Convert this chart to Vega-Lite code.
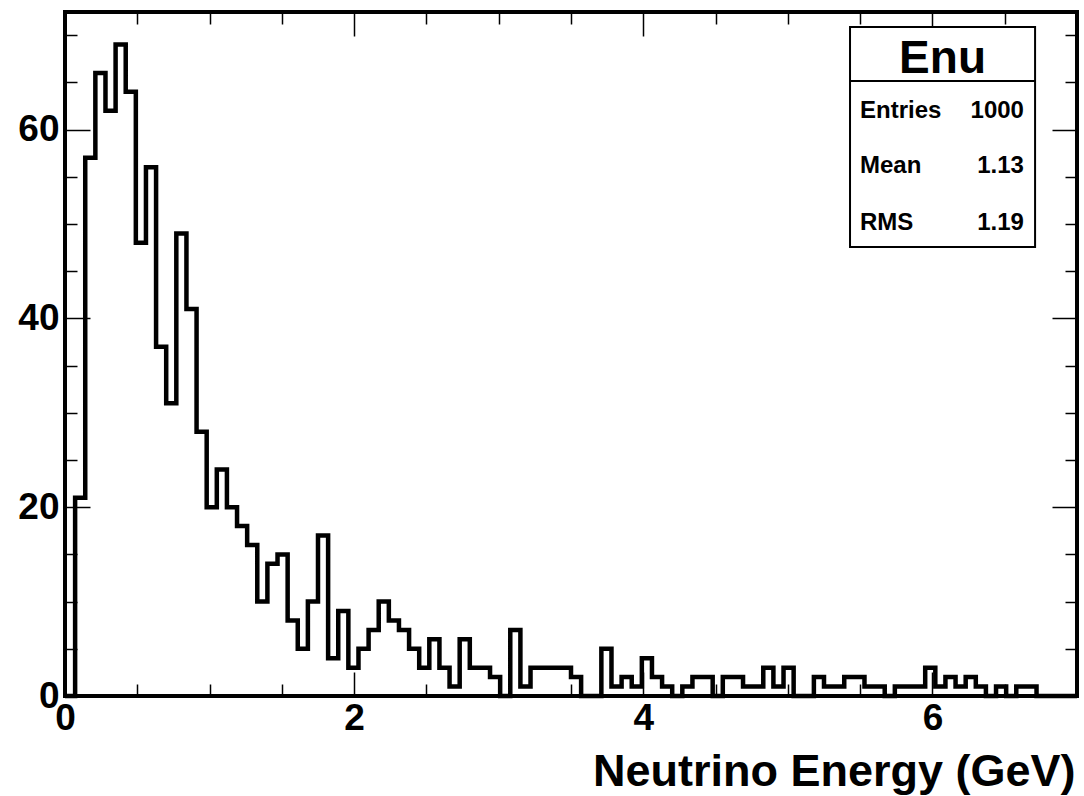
{
  "$schema": "https://vega.github.io/schema/vega-lite/v6.json",
  "width": 1012,
  "height": 684,
  "autosize": {"type": "none"},
  "padding": {"left": 65, "top": 12, "right": 7, "bottom": 100},
  "background": "white",
  "config": {"view": {"stroke": "black", "strokeWidth": 4}, "font": "Liberation Sans"},
  "datasets": {
    "hist": [
      {"e": 0, "n": 0}, {"e": 0.07, "n": 21}, {"e": 0.14, "n": 57}, {"e": 0.21, "n": 66}, {"e": 0.28, "n": 62},
      {"e": 0.35, "n": 69}, {"e": 0.42, "n": 64}, {"e": 0.49, "n": 48}, {"e": 0.56, "n": 56}, {"e": 0.63, "n": 37},
      {"e": 0.7, "n": 31}, {"e": 0.77, "n": 49}, {"e": 0.84, "n": 41}, {"e": 0.91, "n": 28}, {"e": 0.98, "n": 20},
      {"e": 1.05, "n": 24}, {"e": 1.12, "n": 20}, {"e": 1.19, "n": 18}, {"e": 1.26, "n": 16}, {"e": 1.33, "n": 10},
      {"e": 1.4, "n": 14}, {"e": 1.47, "n": 15}, {"e": 1.54, "n": 8}, {"e": 1.61, "n": 5}, {"e": 1.68, "n": 10},
      {"e": 1.75, "n": 17}, {"e": 1.82, "n": 4}, {"e": 1.89, "n": 9}, {"e": 1.96, "n": 3}, {"e": 2.03, "n": 5},
      {"e": 2.1, "n": 7}, {"e": 2.17, "n": 10}, {"e": 2.24, "n": 8}, {"e": 2.31, "n": 7}, {"e": 2.38, "n": 5},
      {"e": 2.45, "n": 3}, {"e": 2.52, "n": 6}, {"e": 2.59, "n": 3}, {"e": 2.66, "n": 1}, {"e": 2.73, "n": 6},
      {"e": 2.8, "n": 3}, {"e": 2.87, "n": 3}, {"e": 2.94, "n": 2}, {"e": 3.01, "n": 0}, {"e": 3.08, "n": 7},
      {"e": 3.15, "n": 1}, {"e": 3.22, "n": 3}, {"e": 3.29, "n": 3}, {"e": 3.36, "n": 3}, {"e": 3.43, "n": 3},
      {"e": 3.5, "n": 2}, {"e": 3.57, "n": 0}, {"e": 3.64, "n": 0}, {"e": 3.71, "n": 5}, {"e": 3.78, "n": 1},
      {"e": 3.85, "n": 2}, {"e": 3.92, "n": 1}, {"e": 3.99, "n": 4}, {"e": 4.06, "n": 2}, {"e": 4.13, "n": 1},
      {"e": 4.2, "n": 0}, {"e": 4.27, "n": 1}, {"e": 4.34, "n": 2}, {"e": 4.41, "n": 2}, {"e": 4.48, "n": 0},
      {"e": 4.55, "n": 2}, {"e": 4.62, "n": 2}, {"e": 4.69, "n": 1}, {"e": 4.76, "n": 1}, {"e": 4.83, "n": 3},
      {"e": 4.9, "n": 1}, {"e": 4.97, "n": 3}, {"e": 5.04, "n": 0}, {"e": 5.11, "n": 0}, {"e": 5.18, "n": 2},
      {"e": 5.25, "n": 1}, {"e": 5.32, "n": 1}, {"e": 5.39, "n": 2}, {"e": 5.46, "n": 2}, {"e": 5.53, "n": 1},
      {"e": 5.6, "n": 1}, {"e": 5.67, "n": 0}, {"e": 5.74, "n": 1}, {"e": 5.81, "n": 1}, {"e": 5.88, "n": 1},
      {"e": 5.95, "n": 3}, {"e": 6.02, "n": 1}, {"e": 6.09, "n": 2}, {"e": 6.16, "n": 1}, {"e": 6.23, "n": 2},
      {"e": 6.3, "n": 1}, {"e": 6.37, "n": 0}, {"e": 6.44, "n": 1}, {"e": 6.51, "n": 0}, {"e": 6.58, "n": 1},
      {"e": 6.65, "n": 1}, {"e": 6.72, "n": 0}, {"e": 6.79, "n": 0}, {"e": 6.86, "n": 0}, {"e": 6.93, "n": 0},
      {"e": 7, "n": 0}
    ],
    "box": [{"title": "Enu"}],
    "stats": [
      {"k": "Entries", "v": "1000"},
      {"k": "Mean", "v": "1.13"},
      {"k": "RMS", "v": "1.19"}
    ]
  },
  "layer": [
    {
      "data": {"name": "hist"},
      "mark": {"type": "line", "interpolate": "step-after", "color": "black", "strokeWidth": 4.5, "strokeJoin": "miter"},
      "encoding": {
        "x": {
          "field": "e", "type": "quantitative",
          "scale": {"domain": [0, 7], "nice": false, "zero": false},
          "axis": {
            "orient": "bottom",
            "values": [0, 0.5, 1, 1.5, 2, 2.5, 3, 3.5, 4, 4.5, 5, 5.5, 6, 6.5, 7],
            "domain": false, "grid": false,
            "tickColor": "black", "tickWidth": 1.5,
            "tickSize": {"condition": {"test": "datum.value % 2 === 0", "value": -24}, "value": -12},
            "labelExpr": "datum.value % 2 === 0 ? format(datum.value, 'd') : ''",
            "labelFont": "Liberation Sans", "labelFontWeight": "bold", "labelFontSize": 37, "labelColor": "black",
            "labelPadding": 28, "labelFlush": false, "labelOverlap": false,
            "title": "Neutrino Energy (GeV)",
            "titleFont": "Liberation Sans", "titleFontSize": 45, "titleFontWeight": "bold", "titleColor": "black",
            "titleAnchor": "end", "titleAlign": "right", "titleBaseline": "alphabetic", "titleX": 1010, "titleY": 89
          }
        },
        "y": {
          "field": "n", "type": "quantitative",
          "scale": {"domain": [0, 72.45], "nice": false},
          "axis": {
            "orient": "left",
            "values": [0, 5, 10, 15, 20, 25, 30, 35, 40, 45, 50, 55, 60, 65, 70],
            "domain": false, "grid": false,
            "tickColor": "black", "tickWidth": 1.5,
            "tickSize": {"condition": {"test": "datum.value % 20 === 0", "value": -25}, "value": -12},
            "labelExpr": "datum.value % 20 === 0 ? format(datum.value, 'd') : ''",
            "labelFont": "Liberation Sans", "labelFontWeight": "bold", "labelFontSize": 37, "labelColor": "black",
            "labelPadding": 31, "labelFlush": false, "labelOverlap": false,
            "title": null
          }
        }
      }
    },
    {
      "data": {"name": "hist"},
      "mark": {"type": "line", "opacity": 0},
      "encoding": {
        "x": {
          "field": "e", "type": "quantitative",
          "scale": {"domain": [0, 7], "nice": false, "zero": false},
          "axis": {
            "orient": "top",
            "values": [0, 0.5, 1, 1.5, 2, 2.5, 3, 3.5, 4, 4.5, 5, 5.5, 6, 6.5, 7],
            "domain": false, "grid": false, "labels": false, "title": null,
            "tickColor": "black", "tickWidth": 1.5,
            "tickSize": {"condition": {"test": "datum.value % 2 === 0", "value": -24}, "value": -12}
          }
        },
        "y": {
          "field": "n", "type": "quantitative",
          "scale": {"domain": [0, 72.45], "nice": false},
          "axis": {
            "orient": "right",
            "values": [0, 5, 10, 15, 20, 25, 30, 35, 40, 45, 50, 55, 60, 65, 70],
            "domain": false, "grid": false, "labels": false, "title": null,
            "tickColor": "black", "tickWidth": 1.5,
            "tickSize": {"condition": {"test": "datum.value % 20 === 0", "value": -25}, "value": -12}
          }
        }
      }
    },
    {
      "data": {"name": "box"},
      "mark": {"type": "rect", "fill": "white", "stroke": "black", "strokeWidth": 2},
      "encoding": {
        "x": {"datum": 5.43, "type": "quantitative", "axis": null},
        "x2": {"datum": 6.71},
        "y": {"datum": 70.86, "type": "quantitative", "axis": null},
        "y2": {"datum": 47.56}
      }
    },
    {
      "data": {"name": "box"},
      "mark": {"type": "rule", "color": "black", "strokeWidth": 2},
      "encoding": {
        "x": {"datum": 5.43, "type": "quantitative", "axis": null},
        "x2": {"datum": 6.71},
        "y": {"datum": 65.14, "type": "quantitative", "axis": null}
      }
    },
    {
      "data": {"name": "box"},
      "mark": {"type": "text", "font": "Liberation Sans", "fontWeight": "bold", "fontSize": 46, "baseline": "alphabetic", "align": "center", "color": "black"},
      "encoding": {
        "x": {"datum": 6.07, "type": "quantitative", "axis": null},
        "y": {"datum": 65.99, "type": "quantitative", "axis": null},
        "text": {"field": "title"}
      }
    },
    {
      "data": {"name": "stats"},
      "transform": [{"filter": "datum.k === 'Entries'"}],
      "encoding": {"y": {"datum": 61.19, "type": "quantitative", "axis": null}},
      "layer": [
        {"mark": {"type": "text", "font": "Liberation Sans", "fontWeight": "bold", "fontSize": 24, "baseline": "alphabetic", "align": "left", "color": "black"},
         "encoding": {"x": {"datum": 5.499, "type": "quantitative", "axis": null}, "text": {"field": "k"}}},
        {"mark": {"type": "text", "font": "Liberation Sans", "fontWeight": "bold", "fontSize": 24, "baseline": "alphabetic", "align": "right", "color": "black"},
         "encoding": {"x": {"datum": 6.633, "type": "quantitative", "axis": null}, "text": {"field": "v"}}}
      ]
    },
    {
      "data": {"name": "stats"},
      "transform": [{"filter": "datum.k === 'Mean'"}],
      "encoding": {"y": {"datum": 55.36, "type": "quantitative", "axis": null}},
      "layer": [
        {"mark": {"type": "text", "font": "Liberation Sans", "fontWeight": "bold", "fontSize": 24, "baseline": "alphabetic", "align": "left", "color": "black"},
         "encoding": {"x": {"datum": 5.499, "type": "quantitative", "axis": null}, "text": {"field": "k"}}},
        {"mark": {"type": "text", "font": "Liberation Sans", "fontWeight": "bold", "fontSize": 24, "baseline": "alphabetic", "align": "right", "color": "black"},
         "encoding": {"x": {"datum": 6.633, "type": "quantitative", "axis": null}, "text": {"field": "v"}}}
      ]
    },
    {
      "data": {"name": "stats"},
      "transform": [{"filter": "datum.k === 'RMS'"}],
      "encoding": {"y": {"datum": 49.36, "type": "quantitative", "axis": null}},
      "layer": [
        {"mark": {"type": "text", "font": "Liberation Sans", "fontWeight": "bold", "fontSize": 24, "baseline": "alphabetic", "align": "left", "color": "black"},
         "encoding": {"x": {"datum": 5.499, "type": "quantitative", "axis": null}, "text": {"field": "k"}}},
        {"mark": {"type": "text", "font": "Liberation Sans", "fontWeight": "bold", "fontSize": 24, "baseline": "alphabetic", "align": "right", "color": "black"},
         "encoding": {"x": {"datum": 6.633, "type": "quantitative", "axis": null}, "text": {"field": "v"}}}
      ]
    }
  ],
  "resolve": {"axis": {"x": "independent", "y": "independent"}}
}
